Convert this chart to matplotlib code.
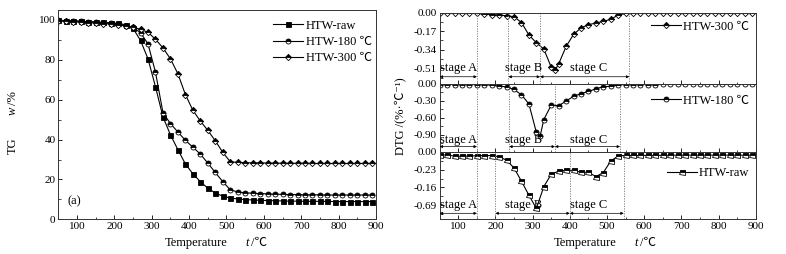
import numpy as np
import matplotlib
matplotlib.use("Agg")
import matplotlib.pyplot as plt
from matplotlib.ticker import MultipleLocator, AutoMinorLocator

plt.rcParams['font.family'] = ['Liberation Serif', 'Noto Sans CJK SC', 'DejaVu Serif']
plt.rcParams['axes.unicode_minus'] = False

# ---- TG data (every 20 degC) ----
t_tg = list(range(50, 891, 20))
tg_raw = [99.8, 99.7, 99.6, 99.4, 99.2, 99.0, 98.8, 98.6, 98.3, 97.6,
          95.8, 89.7, 80.5, 66.5, 51.4, 42.4, 34.9, 27.8, 22.8, 18.9,
          15.6, 13.2, 11.6, 10.7, 10.2, 9.9, 9.7, 9.5, 9.4, 9.3,
          9.2, 9.1, 9.1, 9.0, 9.0, 9.0, 9.0, 8.9, 8.9, 8.9,
          8.9, 8.9, 8.9]
tg_180 = [99.8, 99.6, 99.5, 99.3, 99.1, 98.9, 98.7, 98.4, 98.0, 97.2,
          96.3, 93.6, 88.0, 73.8, 53.5, 48.0, 43.8, 39.6, 36.2, 32.7,
          28.2, 23.5, 18.9, 14.8, 13.7, 13.3, 13.1, 12.9, 12.8, 12.6,
          12.5, 12.4, 12.4, 12.3, 12.3, 12.3, 12.2, 12.2, 12.2, 12.2,
          12.2, 12.2, 12.2]
tg_300 = [99.5, 99.3, 99.1, 98.9, 98.7, 98.4, 98.2, 98.0, 97.6, 97.0,
          96.3, 95.3, 93.8, 90.3, 86.0, 80.5, 73.0, 62.6, 54.7, 49.3,
          44.6, 39.4, 33.6, 28.9, 28.5, 28.4, 28.3, 28.3, 28.2, 28.2,
          28.1, 28.1, 28.1, 28.1, 28.0, 28.0, 28.0, 28.0, 28.0, 28.0,
          28.0, 28.0, 28.0]

# ---- DTG data ----
t_d300 = [50, 70, 90, 110, 130, 150, 170, 190, 210, 230, 250, 270, 290, 310, 330,
          350, 360, 370, 390, 410, 430, 450, 470, 490, 510, 530, 550,
          570, 590, 610, 630, 650, 670, 690, 710, 730, 750, 770, 790, 810, 830, 850, 870, 890]
dtg_300 = [-0.006, -0.006, -0.006, -0.006, -0.006, -0.006, -0.012, -0.018, -0.021, -0.028,
           -0.037, -0.09, -0.205, -0.276, -0.334, -0.50, -0.53, -0.47, -0.31, -0.20,
           -0.14, -0.11, -0.095, -0.08, -0.06, -0.022, -0.007,
           -0.005, -0.005, -0.005, -0.005, -0.005, -0.005, -0.005, -0.005, -0.005,
           -0.005, -0.005, -0.005, -0.005, -0.005, -0.005, -0.005, -0.005]

t_d180 = [50, 70, 90, 110, 130, 150, 170, 190, 210, 230, 250, 270, 290, 310, 320, 330,
          350, 370, 390, 410, 430, 450, 470, 490, 510, 530, 550,
          570, 590, 610, 630, 650, 670, 690, 710, 730, 750, 770, 790, 810, 830, 850, 870, 890]
dtg_180 = [-0.018, -0.018, -0.018, -0.018, -0.018, -0.018, -0.02, -0.03, -0.045, -0.06,
           -0.105, -0.2, -0.36, -0.86, -0.93, -0.635, -0.38, -0.39, -0.31, -0.225,
           -0.18, -0.14, -0.095, -0.055, -0.05, -0.024, -0.018,
           -0.018, -0.018, -0.018, -0.018, -0.017, -0.017, -0.017, -0.016, -0.016,
           -0.016, -0.016, -0.015, -0.015, -0.015, -0.015, -0.015, -0.015]

t_draw = list(range(50, 891, 20))
dtg_raw = [-0.045, -0.04, -0.058, -0.058, -0.056, -0.052, -0.05, -0.05, -0.065, -0.11,
           -0.21, -0.38, -0.56, -0.73, -0.45, -0.29, -0.25, -0.24, -0.24, -0.265,
           -0.265, -0.32, -0.27, -0.12, -0.056, -0.048,
           -0.048, -0.048, -0.047, -0.047, -0.046, -0.046, -0.045, -0.045, -0.044,
           -0.044, -0.044, -0.044, -0.044, -0.044, -0.045, -0.045, -0.045]

# stage boundaries / labels per DTG panel
stages_300 = [(50, 150, 'stage A'), (235, 320, 'stage B'), (320, 560, 'stage C')]
stages_180 = [(50, 150, 'stage A'), (237, 360, 'stage B'), (360, 535, 'stage C')]
stages_raw = [(50, 150, 'stage A'), (200, 400, 'stage B'), (400, 545, 'stage C')]
label_x = [100, 275, 451]

W, H = 786, 254
fig = plt.figure(figsize=(W / 100, H / 100), dpi=100)

mk = dict(color='black', lw=0.8, markersize=3.6, markeredgewidth=0.6,
          fillstyle='top', markerfacecoloralt='white', markerfacecolor='black',
          markeredgecolor='black')


def style_ax(ax):
    ax.tick_params(direction='in', labelsize=8, length=3, width=0.6, pad=2)
    ax.tick_params(which='minor', direction='in', length=1.8, width=0.5)
    for s in ax.spines.values():
        s.set_linewidth(0.7)
        s.set_color('#333333')


def temp_label(x_left, y_px):
    # "Temperature    t /℃" with italic t
    fig.text(x_left / W, 1 - y_px / H, 'Temperature', fontsize=9, va='center')
    fig.text((x_left + 80) / W, 1 - y_px / H, 't', fontsize=9, style='italic', va='center')
    fig.text((x_left + 86) / W, 1 - y_px / H, '/℃', fontsize=9, va='center')


# ---- left: TG ----
ax = fig.add_axes([58.3 / W, 1 - 219.3 / H, (376 - 58.3) / W, (219.3 - 10) / H])
ax.plot(t_tg, tg_raw, marker='s', label='HTW-raw', **{**mk, 'fillstyle': 'full'})
ax.plot(t_tg, tg_180, marker='o', label='HTW-180 ℃', **mk)
ax.plot(t_tg, tg_300, marker='D', label='HTW-300 ℃', **{**mk, 'markersize': 3.2})
ax.set_xlim(50, 900)
ax.set_ylim(0, 105)
ax.xaxis.set_major_locator(MultipleLocator(100))
ax.xaxis.set_minor_locator(MultipleLocator(50))
ax.yaxis.set_major_locator(MultipleLocator(20))
ax.yaxis.set_minor_locator(MultipleLocator(10))
style_ax(ax)
ax.text(75, 9, '(a)', fontsize=9, va='center')
ax.legend(loc='upper right', bbox_to_anchor=(1.01, 0.99), frameon=False, fontsize=9,
          handlelength=2.4, handletextpad=0.2, labelspacing=0.35, borderaxespad=0.2)
temp_label(165, 243)
fig.text(13 / W, 1 - 146 / H, 'TG', fontsize=9, rotation=90, ha='center', va='center')
fig.text(13 / W, 1 - 111 / H, 'w', fontsize=9, style='italic', rotation=90,
         ha='center', va='center')
fig.text(13 / W, 1 - 98 / H, '/%', fontsize=9, rotation=90, ha='center', va='center')

# ---- right: DTG, three stacked panels ----
x0, x1 = 439.7 / W, (755.7 - 439.7) / W
bounds = [(12.7, 83.5), (83.5, 151.7), (151.7, 219.3)]
panels = [
    (t_d300, dtg_300, 'D', 'HTW-300 ℃', (-0.65, 0), [0, -0.17, -0.34, -0.51],
     ['0.00', '-0.17', '-0.34', '-0.51'], stages_300, -0.588, -0.51, 0.80),
    (t_d180, dtg_180, 'o', 'HTW-180 ℃', (-1.2, 0), [0, -0.3, -0.6, -0.9],
     ['0.00', '-0.30', '-0.60', '-0.90'], stages_180, -1.11, -0.99, 0.75),
    (t_draw, dtg_raw, 's', 'HTW-raw', (-0.87, 0), [0, -0.23, -0.46, -0.69],
     ['0.00', '-0.23', '-0.16', '-0.69'], stages_raw, -0.793, -0.686, 0.68),
]
for i, (tt, vv, m, lab, yl, yt, ytl, stg, ay, ty, ly) in enumerate(panels):
    top, bot = bounds[i]
    a = fig.add_axes([x0, 1 - bot / H, x1, (bot - top) / H])
    kw = dict(mk)
    if m == 'D':
        kw['markersize'] = 3.2
    a.plot(tt, vv, marker=m, label=lab, **kw)
    a.set_xlim(50, 900)
    a.set_ylim(*yl)
    a.set_yticks(yt)
    a.set_yticklabels(ytl)
    a.yaxis.set_minor_locator(AutoMinorLocator(2))
    a.xaxis.set_major_locator(MultipleLocator(100))
    a.xaxis.set_minor_locator(MultipleLocator(50))
    style_ax(a)
    if i < 2:
        a.tick_params(labelbottom=False)
    # stage guides
    edges = sorted(set([s[1] for s in stg] + [stg[1][0]]))
    for e in edges:
        a.axvline(e, color='#777777', lw=0.6, ls=(0, (1.5, 1.5)))
    for (s0, s1, txt), lx in zip(stg, label_x):
        a.annotate('', xy=(s1, ay), xytext=(s0, ay),
                   arrowprops=dict(arrowstyle='<|-|>', lw=0.5, color='black',
                                   mutation_scale=4, shrinkA=0, shrinkB=0))
        a.text(lx, ty, txt, fontsize=9, ha='center', va='center')
    a.legend(loc='center right', bbox_to_anchor=(1.0, ly), frameon=False, fontsize=9,
             handlelength=2.4, handletextpad=0.2, borderaxespad=0.1)

temp_label(554, 243)
fig.text(400 / W, 1 - 116 / H, 'DTG /(%·℃⁻¹)', rotation=90, fontsize=9,
         ha='center', va='center')

fig.savefig('out.png', dpi=100)
